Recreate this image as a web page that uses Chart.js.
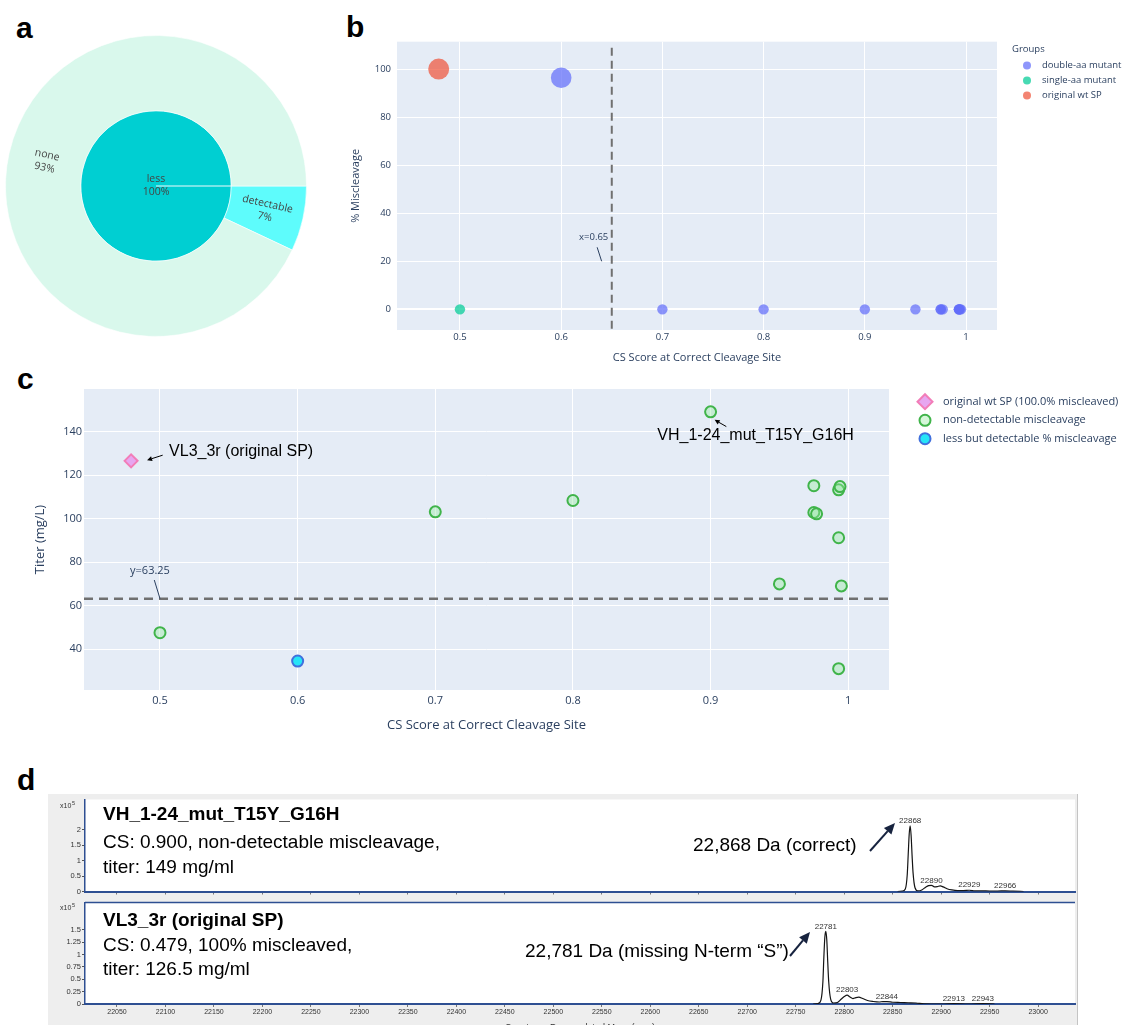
<!DOCTYPE html>
<html lang="en">
<head>
<meta charset="utf-8">
<title>Signal peptide cleavage and titer</title>
<script src="https://cdn.jsdelivr.net/npm/chart.js@4.4.1/dist/chart.umd.min.js"></script>
<style>
  html, body { margin: 0; padding: 0; background: #fff; overflow: hidden; }
  body { position: relative; width: 1124px; height: 1025px; }
  canvas { position: absolute; }
  .tag { position: absolute; font: bold 30px "Liberation Sans", Arial, sans-serif; line-height: 30px; color: #000; }
  #msFrame { position: absolute; left: 48px; top: 794px; width: 1029px; height: 231px; background: #eeeeee; border-right: 1px solid #c4c4c4; }
</style>
</head>
<body>
<div class="tag" style="left:16px;top:13px">a</div>
<div class="tag" style="left:346px;top:12px">b</div>
<div class="tag" style="left:17px;top:364px">c</div>
<div class="tag" style="left:17px;top:765px">d</div>

<canvas id="chartA" width="302" height="302" style="left:5px;top:35px"></canvas>
<canvas id="chartB" width="784" height="340" style="left:340px;top:30px"></canvas>
<canvas id="chartC" width="1124" height="370" style="left:0;top:370px"></canvas>
<div id="msFrame"></div>
<canvas id="chartD1" width="1030" height="103" style="left:48px;top:794px"></canvas>
<canvas id="chartD2" width="1030" height="128" style="left:48px;top:897px"></canvas>

<script>
// ---- a: miscleavage breakdown (outer ring = level, inner = group)
const ringOuterLabels = ['detectable', 'none'];
const ringOuterValues = [7, 93];
const ringInnerLabels = ['less'];
const ringInnerValues = [100];

// ---- b: % miscleavage against CS score, by group
const bDoubleX = [0.6, 0.7, 0.8, 0.9, 0.95, 0.975, 0.975, 0.977, 0.993, 0.993, 0.993, 0.994, 0.995];
const bDoubleY = [96.4, 0, 0, 0, 0, 0, 0, 0, 0, 0, 0, 0, 0];
const bSingleX = [0.5];
const bSingleY = [0];
const bWtX = [0.479];
const bWtY = [100];
const bTicksX = [0.5, 0.6, 0.7, 0.8, 0.9, 1];
const bTicksY = [0, 20, 40, 60, 80, 100];
const csCutoff = 0.65;

// ---- c: titer against CS score
const cWtX = [0.479];
const cWtTiter = [126.5];
const cNoneX = [0.5, 0.7, 0.8, 0.9, 0.95, 0.975, 0.975, 0.977, 0.993, 0.993, 0.993, 0.994, 0.995];
const cNoneTiter = [47.6, 103.1, 108.3, 149, 70.0, 115.1, 102.8, 102.2, 91.2, 31.1, 113.2, 114.7, 69.1];
const cLessX = [0.6];
const cLessTiter = [34.6];
const cTicksX = [0.5, 0.6, 0.7, 0.8, 0.9, 1];
const cTicksY = [40, 60, 80, 100, 120, 140];
const titerMedian = 63.25;

// ---- d: deconvoluted mass spectra (counts x10^5)
const vhMass = [22855, 22860, 22863, 22865, 22866, 22867, 22868, 22869, 22870, 22871, 22873, 22876, 22880, 22884, 22887, 22890, 22893, 22896, 22899, 22902, 22906, 22911, 22917, 22923, 22929, 22935, 22942, 22950, 22958, 22966, 22974, 22985];
const vhCounts = [0, 0.01, 0.08, 0.55, 1.2, 1.85, 2.12, 1.8, 1.15, 0.6, 0.12, 0.02, 0.05, 0.14, 0.19, 0.2, 0.15, 0.16, 0.18, 0.15, 0.09, 0.05, 0.03, 0.03, 0.04, 0.02, 0.02, 0.015, 0.015, 0.02, 0.01, 0];
const vhPeaks = [22868, 22890, 22929, 22966];
const vlMass = [22768, 22773, 22776, 22778, 22779, 22780, 22781, 22782, 22783, 22784, 22786, 22789, 22793, 22797, 22800, 22803, 22806, 22809, 22812, 22815, 22819, 22824, 22830, 22836, 22840, 22844, 22850, 22858, 22866, 22874, 22882, 22900, 22913, 22928, 22943, 22955];
const vlCounts = [0, 0.01, 0.08, 0.45, 0.95, 1.35, 1.47, 1.3, 0.85, 0.45, 0.1, 0.02, 0.03, 0.1, 0.15, 0.18, 0.14, 0.11, 0.13, 0.14, 0.11, 0.07, 0.05, 0.04, 0.05, 0.05, 0.035, 0.03, 0.025, 0.02, 0.005, 0, 0.008, 0, 0.008, 0];
const vlPeaks = [22781, 22803, 22844, 22913, 22943];
const massTicks = [22050, 22100, 22150, 22200, 22250, 22300, 22350, 22400, 22450, 22500, 22550, 22600, 22650, 22700, 22750, 22800, 22850, 22900, 22950, 23000];
const vhTicks = [0, 0.5, 1, 1.5, 2];
const vlTicks = [0, 0.25, 0.5, 0.75, 1, 1.25, 1.5];

Chart.defaults.font.family = '"Open Sans", sans-serif';

const pairs = (xs, ys) => xs.map((x, i) => ({ x: x, y: ys[i] }));
const trimNum = v => String(Math.round(v * 1000) / 1000);
const noUi = { legend: { display: false }, tooltip: { enabled: false } };

function fillArea(color) {
    return {
        id: 'fillArea',
        beforeDraw(chart) {
            const { ctx, chartArea: a } = chart;
            ctx.save();
            ctx.fillStyle = color;
            ctx.fillRect(a.left, a.top, a.right - a.left, a.bottom - a.top);
            ctx.restore();
        }
    };
}

function marker(ctx, shape, x, y, r, fill, stroke, lw) {
    ctx.beginPath();
    if (shape === 'rectRot') {
        ctx.moveTo(x - r, y); ctx.lineTo(x, y - r); ctx.lineTo(x + r, y); ctx.lineTo(x, y + r);
        ctx.closePath();
    } else {
        ctx.arc(x, y, r, 0, Math.PI * 2);
    }
    ctx.fillStyle = fill;
    ctx.fill();
    if (lw) { ctx.lineWidth = lw; ctx.strokeStyle = stroke; ctx.stroke(); }
}

function arrow(ctx, x0, y0, x1, y1, len, half, width) {
    const ang = Math.atan2(y1 - y0, x1 - x0);
    const bx = x1 - len * Math.cos(ang), by = y1 - len * Math.sin(ang);
    ctx.lineWidth = width;
    ctx.beginPath(); ctx.moveTo(x0, y0); ctx.lineTo(bx, by); ctx.stroke();
    ctx.beginPath();
    ctx.moveTo(x1, y1);
    ctx.lineTo(bx + half * Math.sin(ang), by - half * Math.cos(ang));
    ctx.lineTo(bx - half * Math.sin(ang), by + half * Math.cos(ang));
    ctx.closePath();
    ctx.fill();
}

// plotly-looking linear axis with fixed tick list and fixed thickness
function plotlyAxis(o) {
    return {
        type: 'linear', min: o.min, max: o.max,
        afterBuildTicks: s => { s.ticks = o.ticks.map(v => ({ value: v })); },
        afterFit: s => { if (s.isHorizontal()) s.height = o.size; else s.width = o.size; },
        grid: { color: '#ffffff', lineWidth: c => (c.tick && c.tick.value === 0 ? 2 : 1), drawTicks: false },
        border: { display: false },
        ticks: { padding: o.pad, color: '#2a3f5f', font: { size: o.tickSize }, maxRotation: 0, autoSkip: false, callback: trimNum },
        title: { display: true, text: o.title, color: '#2a3f5f', font: { size: o.titleSize }, padding: o.titlePad }
    };
}

// ---------------- a ----------------
const ringText = {
    id: 'ringText',
    afterDatasetsDraw(chart) {
        const ctx = chart.ctx;
        ctx.save();
        ctx.font = '10.5px "Open Sans"';
        ctx.fillStyle = '#444';
        ctx.textAlign = 'center';
        ctx.textBaseline = 'middle';
        chart.data.datasets.forEach((ds, di) => {
            const total = ds.data.reduce((s, v) => s + v, 0);
            chart.getDatasetMeta(di).data.forEach((arc, i) => {
                const p = arc.getProps(['x', 'y', 'startAngle', 'endAngle', 'innerRadius', 'outerRadius'], true);
                let cx = p.x, cy = p.y, rot = 0;
                if (p.endAngle - p.startAngle < Math.PI * 2 - 1e-6) {
                    const mid = (p.startAngle + p.endAngle) / 2;
                    const r = (p.innerRadius + p.outerRadius) / 2;
                    cx += Math.cos(mid) * r;
                    cy += Math.sin(mid) * r;
                    rot = mid;
                    while (rot > Math.PI / 2) rot -= Math.PI;
                    while (rot < -Math.PI / 2) rot += Math.PI;
                }
                ctx.save();
                ctx.translate(cx, cy);
                ctx.rotate(rot);
                ctx.fillText(ds.names[i], 0, -6.5);
                ctx.fillText(Math.round(ds.data[i] / total * 100) + '%', 0, 6.5);
                ctx.restore();
            });
        });
        ctx.restore();
    }
};

new Chart(document.getElementById('chartA'), {
    type: 'doughnut',
    data: {
        labels: ringOuterLabels,
        datasets: [
            { data: ringOuterValues, names: ringOuterLabels, backgroundColor: ['#5efcfc', '#d9f8ec'], borderColor: 'rgba(255,255,255,0.6)', borderWidth: 1, hoverOffset: 0 },
            { data: ringInnerValues, names: ringInnerLabels, backgroundColor: ['#00cfd2'], borderColor: 'rgba(255,255,255,0.55)', borderWidth: 1, hoverOffset: 0 }
        ]
    },
    options: {
        responsive: false, animation: false, events: [],
        rotation: 90, cutout: 0,
        plugins: noUi
    },
    plugins: [ringText]
});

// ---------------- b ----------------
const bubbleR = c => (c.raw ? 5.2 + 0.053 * c.raw.y : 5);
const bGroups = [
    { label: 'double-aa mutant', xs: bDoubleX, ys: bDoubleY, color: 'rgba(99,110,250,0.72)' },
    { label: 'single-aa mutant', xs: bSingleX, ys: bSingleY, color: 'rgba(0,204,150,0.72)' },
    { label: 'original wt SP', xs: bWtX, ys: bWtY, color: 'rgba(239,85,59,0.72)' }
];

const bExtras = {
    id: 'bExtras',
    afterDatasetsDraw(chart) {
        const { ctx, chartArea: a, scales: { x, y } } = chart;
        ctx.save();
        // cutoff line
        const lx = x.getPixelForValue(csCutoff);
        ctx.strokeStyle = '#707070';
        ctx.lineWidth = 2;
        ctx.setLineDash([8, 5]);
        ctx.beginPath(); ctx.moveTo(lx, a.top + 6); ctx.lineTo(lx, a.bottom); ctx.stroke();
        ctx.setLineDash([]);
        // its label
        const px = x.getPixelForValue(0.64), py = y.getPixelForValue(20);
        ctx.strokeStyle = '#2a3f5f';
        ctx.lineWidth = 1;
        ctx.beginPath(); ctx.moveTo(px - 4.5, py - 14); ctx.lineTo(px, py); ctx.stroke();
        ctx.fillStyle = '#2a3f5f';
        ctx.font = '9.5px "Open Sans"';
        ctx.textAlign = 'center';
        ctx.textBaseline = 'middle';
        ctx.fillText('x=' + csCutoff, px - 8, py - 24);
        // legend
        ctx.textAlign = 'left';
        ctx.font = '9.5px "Open Sans"';
        ctx.fillText('Groups', 672, 19);
        bGroups.forEach((g, i) => {
            marker(ctx, 'circle', 687, 35.5 + i * 15, 4, g.color);
            ctx.fillStyle = '#2a3f5f';
            ctx.fillText(g.label, 702, 35.5 + i * 15);
        });
        ctx.restore();
    }
};

new Chart(document.getElementById('chartB'), {
    type: 'scatter',
    data: {
        datasets: bGroups.map(g => ({
            label: g.label, data: pairs(g.xs, g.ys),
            backgroundColor: g.color, pointRadius: bubbleR, pointBorderWidth: 0
        }))
    },
    options: {
        responsive: false, animation: false, events: [],
        layout: { padding: { left: 0, top: 10, right: 127, bottom: 0 } },
        plugins: noUi,
        scales: {
            x: plotlyAxis({ min: 0.4378, max: 1.0306, ticks: bTicksX, size: 40, pad: 2, tickSize: 9.5,
                title: 'CS Score at Correct Cleavage Site', titleSize: 11, titlePad: { top: 0, bottom: 6 } }),
            y: plotlyAxis({ min: -8.6, max: 111.4, ticks: bTicksY, size: 57, pad: 6, tickSize: 9.5,
                title: '% Miscleavage', titleSize: 11, titlePad: { top: 9, bottom: 0 } })
        }
    },
    plugins: [fillArea('#e5ecf6'), bExtras]
});

// ---------------- c ----------------
const cGroups = [
    { label: 'original wt SP (100.0% miscleaved)', xs: cWtX, ys: cWtTiter, shape: 'rectRot', r: 6.5, fill: '#e7a6f0', stroke: '#f27db8' },
    { label: 'non-detectable miscleavage', xs: cNoneX, ys: cNoneTiter, shape: 'circle', r: 5.5, fill: 'rgba(150,235,160,0.4)', stroke: '#40b44a' },
    { label: 'less but detectable % miscleavage', xs: cLessX, ys: cLessTiter, shape: 'circle', r: 5.5, fill: '#26e4f7', stroke: '#4070dd' }
];
const vhIdx = cNoneTiter.indexOf(Math.max(...cNoneTiter));

const cExtras = {
    id: 'cExtras',
    afterDatasetsDraw(chart) {
        const { ctx, chartArea: a, scales: { x, y } } = chart;
        ctx.save();
        // median titer line
        const ly = y.getPixelForValue(titerMedian);
        ctx.strokeStyle = '#707070';
        ctx.lineWidth = 2.5;
        ctx.setLineDash([9, 6]);
        ctx.beginPath(); ctx.moveTo(a.left, ly); ctx.lineTo(a.right, ly); ctx.stroke();
        ctx.setLineDash([]);
        const mx = x.getPixelForValue(0.5);
        ctx.strokeStyle = '#2a3f5f';
        ctx.lineWidth = 1;
        ctx.beginPath(); ctx.moveTo(mx - 5.7, ly - 18.6); ctx.lineTo(mx, ly); ctx.stroke();
        ctx.fillStyle = '#2a3f5f';
        ctx.font = '11px "Open Sans"';
        ctx.textAlign = 'center';
        ctx.textBaseline = 'middle';
        ctx.fillText('y=' + titerMedian, mx - 10, ly - 28);

        // named constructs
        ctx.fillStyle = '#000';
        ctx.strokeStyle = '#000';
        ctx.font = '16px "Liberation Sans", Arial, sans-serif';
        const wx = x.getPixelForValue(cWtX[0]), wy = y.getPixelForValue(cWtTiter[0]);
        arrow(ctx, wx + 31.6, wy - 5.7, wx + 16, wy - 0.7, 5, 2.5, 1);
        ctx.textAlign = 'left';
        ctx.fillText('VL3_3r (original SP)', wx + 38, wy - 9);
        const vx = x.getPixelForValue(cNoneX[vhIdx]), vy = y.getPixelForValue(cNoneTiter[vhIdx]);
        arrow(ctx, vx + 15.7, vy + 14.7, vx + 4, vy + 8, 5, 2.5, 1);
        ctx.textAlign = 'center';
        ctx.fillText('VH_1-24_mut_T15Y_G16H', vx + 45, vy + 24);

        // legend
        ctx.textAlign = 'left';
        ctx.font = '11px "Open Sans"';
        [31.7, 50.3, 68.7].forEach((yy, i) => {
            const g = cGroups[i];
            marker(ctx, g.shape, 925, yy, g.shape === 'rectRot' ? 7.5 : 5.5, g.fill, g.stroke, 2);
            ctx.fillStyle = '#2a3f5f';
            ctx.fillText(g.label, 943, yy);
        });
        ctx.restore();
    }
};

new Chart(document.getElementById('chartC'), {
    type: 'scatter',
    data: {
        datasets: cGroups.map(g => ({
            label: g.label, data: pairs(g.xs, g.ys),
            pointStyle: g.shape, pointRadius: g.r,
            backgroundColor: g.fill, borderColor: g.stroke, pointBorderWidth: 2
        }))
    },
    options: {
        responsive: false, animation: false, events: [],
        layout: { padding: { left: 0, top: 19, right: 235, bottom: 0 } },
        plugins: noUi,
        scales: {
            x: plotlyAxis({ min: 0.4448, max: 1.0296, ticks: cTicksX, size: 50, pad: 4, tickSize: 11,
                title: 'CS Score at Correct Cleavage Site', titleSize: 13, titlePad: { top: 0, bottom: 7 } }),
            y: plotlyAxis({ min: 21.3, max: 159.5, ticks: cTicksY, size: 84, pad: 2, tickSize: 11,
                title: 'Titer (mg/L)', titleSize: 13, titlePad: { top: 32, bottom: 0 } })
        }
    },
    plugins: [fillArea('#e5ecf6'), cExtras]
});

// ---------------- d ----------------
const msFont = '"Liberation Sans", Arial, sans-serif';

function msDecor(cfg) {
    return {
        id: 'msDecor',
        afterDatasetsDraw(chart) {
            const { ctx, chartArea: a, scales: { x, y } } = chart;
            const ds = chart.data.datasets[0].data;
            ctx.save();
            if (cfg.frameTop) {
                ctx.strokeStyle = '#2e4f92';
                ctx.lineWidth = 1.5;
                ctx.beginPath(); ctx.moveTo(a.left, a.top); ctx.lineTo(a.right, a.top); ctx.stroke();
            }
            // axis multiplier
            ctx.fillStyle = '#333';
            ctx.font = '7px ' + msFont;
            ctx.textBaseline = 'middle';
            ctx.textAlign = 'left';
            ctx.fillText('x10', 12, cfg.expY);
            ctx.font = '5.5px ' + msFont;
            ctx.fillText('5', 24, cfg.expY - 3);
            // peak labels
            ctx.font = '8px ' + msFont;
            ctx.textAlign = 'center';
            ctx.textBaseline = 'bottom';
            cfg.peaks.forEach(m => {
                const pt = ds.find(d => d.x === m);
                ctx.fillText(String(m), x.getPixelForValue(m), y.getPixelForValue(pt.y) - 1);
            });
            // sample description
            ctx.fillStyle = '#000';
            ctx.textAlign = 'left';
            ctx.textBaseline = 'middle';
            ctx.font = 'bold 19px ' + msFont;
            ctx.fillText(cfg.head, 55, cfg.rows[0]);
            ctx.font = '19px ' + msFont;
            ctx.fillText(cfg.lines[0], 55, cfg.rows[1]);
            ctx.fillText(cfg.lines[1], 55, cfg.rows[2]);
            ctx.fillText(cfg.note, cfg.noteX, cfg.noteY);
            ctx.fillStyle = '#17233f';
            ctx.strokeStyle = '#17233f';
            arrow(ctx, cfg.arrow[0], cfg.arrow[1], cfg.arrow[2], cfg.arrow[3], 11, 5, 2);
            ctx.restore();
        }
    };
}

function spectrum(id, masses, counts, yTicks, cfg) {
    return new Chart(document.getElementById(id), {
        type: 'line',
        data: { datasets: [{ data: pairs(masses, counts), borderColor: '#141414', borderWidth: 1.2, pointRadius: 0, fill: false, cubicInterpolationMode: 'monotone' }] },
        options: {
            responsive: false, animation: false, events: [],
            layout: { padding: { left: 0, top: cfg.padTop, right: 3, bottom: 0 } },
            plugins: noUi,
            scales: {
                x: {
                    type: 'linear', min: 22017, max: 23038, z: 1,
                    afterBuildTicks: s => { s.ticks = massTicks.map(v => ({ value: v })); },
                    afterFit: s => { s.height = cfg.xh; },
                    grid: { drawOnChartArea: false, drawTicks: true, tickLength: 3, color: '#777' },
                    border: { display: true, color: '#2e4f92', width: 2 },
                    ticks: { display: cfg.showX, padding: 1, color: '#333', font: { family: msFont, size: 7 }, maxRotation: 0, autoSkip: false, callback: v => String(v) },
                    title: { display: cfg.showX, text: 'Counts vs. Deconvoluted Mass (amu)', color: '#333', font: { family: msFont, size: 9 }, padding: { top: 0, bottom: -8 } }
                },
                y: {
                    type: 'linear', min: 0, max: cfg.yMax, z: 1,
                    afterBuildTicks: s => { s.ticks = yTicks.map(v => ({ value: v })); },
                    afterFit: s => { s.width = 37; },
                    grid: { drawOnChartArea: false, drawTicks: true, tickLength: 3, color: '#555' },
                    border: { display: true, color: '#2e4f92', width: 1.5 },
                    ticks: { padding: 1, color: '#333', font: { family: msFont, size: 7.5 }, autoSkip: false, callback: v => String(v) }
                }
            }
        },
        plugins: [fillArea('#ffffff'), msDecor(cfg)]
    });
}

spectrum('chartD1', vhMass, vhCounts, vhTicks, {
    padTop: 3, xh: 2, yMax: 2.97, showX: false, frameTop: false, expY: 12, peaks: vhPeaks,
    head: 'VH_1-24_mut_T15Y_G16H',
    lines: ['CS: ' + cNoneX[vhIdx].toFixed(3) + ', non-detectable miscleavage,', 'titer: ' + cNoneTiter[vhIdx] + ' mg/ml'],
    rows: [21, 48.5, 74],
    note: vhPeaks[0].toLocaleString('en-US') + ' Da (correct)', noteX: 645, noteY: 52,
    arrow: [822, 57, 847, 29]
});

spectrum('chartD2', vlMass, vlCounts, vlTicks, {
    padTop: 1, xh: 21, yMax: 2.054, showX: true, frameTop: true, expY: 11, peaks: vlPeaks,
    head: 'VL3_3r (original SP)',
    lines: ['CS: ' + cWtX[0].toFixed(3) + ', 100% miscleaved,', 'titer: ' + cWtTiter[0] + ' mg/ml'],
    rows: [24, 49, 73],
    note: vlPeaks[0].toLocaleString('en-US') + ' Da (missing N-term \u201CS\u201D)', noteX: 477, noteY: 55,
    arrow: [742, 59, 762, 35]
});
</script>
</body>
</html>
